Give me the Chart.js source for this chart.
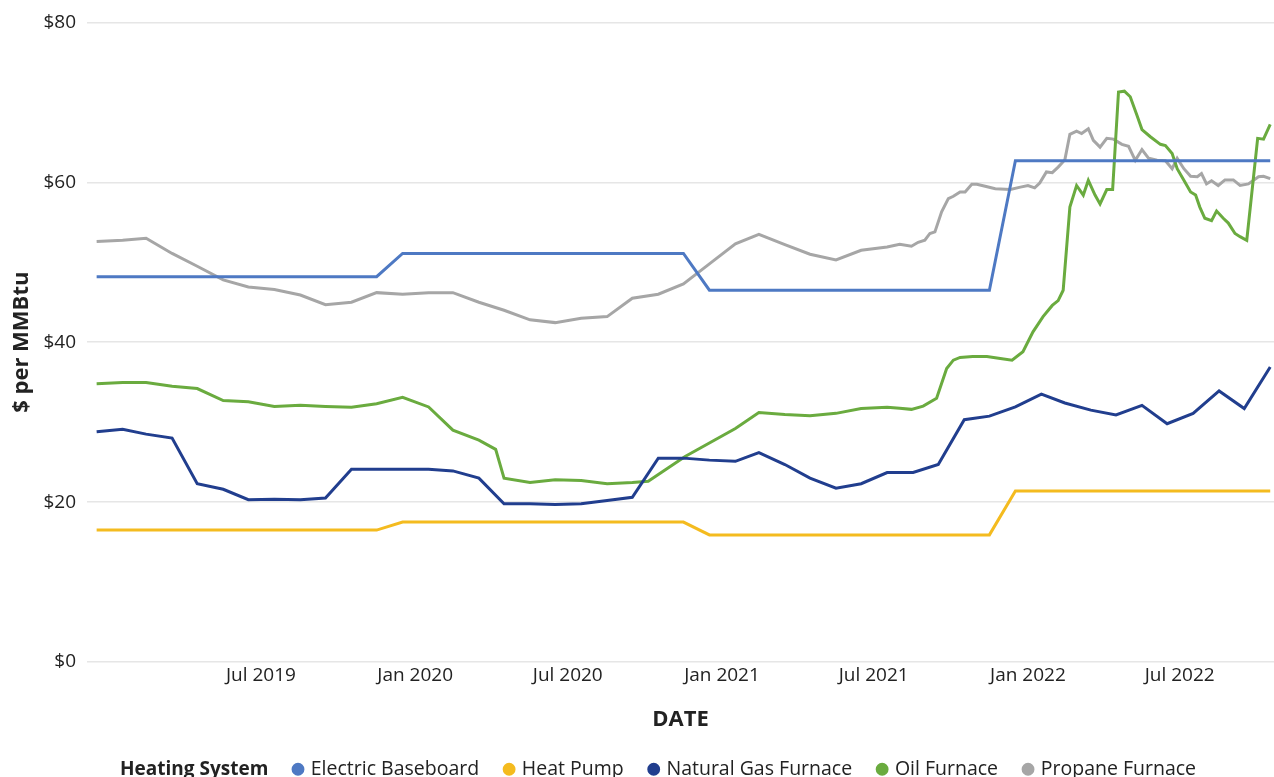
<!DOCTYPE html>
<html>
<head>
<meta charset="utf-8">
<script src="https://cdn.jsdelivr.net/npm/chart.js@4.4.0/dist/chart.umd.min.js"></script>
<style>
html,body{margin:0;padding:0;width:1274px;height:777px;overflow:hidden;background:#fff;}
#wrap{position:relative;width:1274px;height:789px;}
</style>
</head>
<body>
<div id="wrap"><canvas id="c"></canvas></div>
<script>
// ---------- DATA ----------
const months = [
 "2019-01","2019-02","2019-03","2019-04","2019-05","2019-06","2019-07","2019-08","2019-09","2019-10","2019-11","2019-12",
 "2020-01","2020-02","2020-03","2020-04","2020-05","2020-06","2020-07","2020-08","2020-09","2020-10","2020-11","2020-12",
 "2021-01","2021-02","2021-03","2021-04","2021-05","2021-06","2021-07","2021-08","2021-09","2021-10","2021-11","2021-12",
 "2022-01","2022-02","2022-03","2022-04","2022-05","2022-06","2022-07","2022-08","2022-09","2022-10","2022-11"];

const electricBaseboard = [
 48.2,48.2,48.2,48.2,48.2,48.2,48.2,48.2,48.2,48.2,48.2,48.2,
 51.1,51.1,51.1,51.1,51.1,51.1,51.1,51.1,51.1,51.1,51.1,51.1,
 46.5,46.5,46.5,46.5,46.5,46.5,46.5,46.5,46.5,46.5,46.5,46.5,
 62.7,62.7,62.7,62.7,62.7,62.7,62.7,62.7,62.7,62.7,62.7];

const heatPump = [
 16.5,16.5,16.5,16.5,16.5,16.5,16.5,16.5,16.5,16.5,16.5,16.5,
 17.5,17.5,17.5,17.5,17.5,17.5,17.5,17.5,17.5,17.5,17.5,17.5,
 15.9,15.9,15.9,15.9,15.9,15.9,15.9,15.9,15.9,15.9,15.9,15.9,
 21.4,21.4,21.4,21.4,21.4,21.4,21.4,21.4,21.4,21.4,21.4];

const naturalGasFurnace = [
 28.8,29.1,28.5,28.0,22.3,21.6,20.3,20.35,20.3,20.5,24.1,24.1,
 24.1,24.1,23.9,23.0,19.8,19.8,19.7,19.8,20.2,20.6,25.5,25.5,
 25.25,25.1,26.2,24.7,23.0,21.75,22.3,23.7,23.7,24.7,30.3,30.75,
 31.9,33.5,32.4,31.5,30.9,32.1,29.8,31.1,33.9,31.7,36.9];

const oilDates = [
 "2019-01-01","2019-02-01","2019-03-01","2019-04-01","2019-05-01","2019-06-01","2019-07-01","2019-08-01","2019-09-01","2019-10-01","2019-11-01","2019-12-01",
 "2020-01-01","2020-02-01","2020-03-01","2020-04-01","2020-04-21","2020-05-01","2020-06-01","2020-07-01","2020-08-01","2020-09-01","2020-10-01","2020-10-20","2020-12-03",
 "2021-02-01","2021-03-01","2021-04-01","2021-05-01","2021-06-01","2021-07-01","2021-08-01","2021-08-16","2021-08-30","2021-09-13","2021-09-29","2021-10-11","2021-10-19","2021-10-27","2021-11-11","2021-11-28","2021-12-14","2021-12-28",
 "2022-01-10","2022-01-22","2022-02-03","2022-02-14","2022-02-21","2022-02-27","2022-03-07","2022-03-15","2022-03-23","2022-03-29","2022-04-06","2022-04-12","2022-04-20","2022-04-27",
 "2022-05-04","2022-05-11","2022-05-18","2022-05-26","2022-06-01","2022-06-11","2022-06-23","2022-06-29","2022-07-07","2022-07-13","2022-07-21","2022-07-29",
 "2022-08-04","2022-08-09","2022-08-15","2022-08-23","2022-08-29","2022-09-06","2022-09-12","2022-09-20","2022-09-26","2022-10-04","2022-10-17","2022-10-24","2022-11-01"];
const oilFurnace = [
 34.8,34.95,34.95,34.5,34.2,32.7,32.55,31.95,32.1,31.95,31.85,32.3,
 33.1,31.9,29.0,27.75,26.6,23.0,22.45,22.8,22.7,22.3,22.45,22.6,25.7,
 29.2,31.2,30.95,30.8,31.1,31.7,31.85,31.75,31.6,32.0,33.0,36.7,37.75,38.1,38.2,38.2,37.95,37.75,
 38.8,41.3,43.2,44.6,45.2,46.5,56.9,59.6,58.4,60.25,58.4,57.3,59.1,59.1,
 71.3,71.4,70.7,68.4,66.6,65.7,64.75,64.6,63.6,61.7,60.25,58.8,
 58.4,56.9,55.5,55.2,56.4,55.5,54.9,53.6,53.2,52.75,65.5,65.4,67.25];

const propaneDates = [
 "2019-01-01","2019-02-01","2019-03-01","2019-04-01","2019-05-01","2019-06-01","2019-07-01","2019-08-01","2019-09-01","2019-10-01","2019-11-01","2019-12-01",
 "2020-01-01","2020-02-01","2020-03-01","2020-04-01","2020-05-01","2020-06-01","2020-07-01","2020-08-01","2020-09-01","2020-10-01","2020-11-01","2020-12-01",
 "2021-01-01","2021-02-01","2021-03-01","2021-04-01","2021-05-01","2021-06-01","2021-07-01","2021-08-01",
 "2021-08-16","2021-08-30","2021-09-07","2021-09-15","2021-09-21","2021-09-27","2021-10-05","2021-10-13","2021-10-19","2021-10-27","2021-11-02","2021-11-10","2021-11-16","2021-11-26","2021-12-08","2021-12-26",
 "2022-01-07","2022-01-16","2022-01-24","2022-01-30","2022-02-07","2022-02-14","2022-02-21","2022-03-01","2022-03-07","2022-03-15","2022-03-21","2022-03-29",
 "2022-04-04","2022-04-12","2022-04-20","2022-04-28","2022-05-08","2022-05-16","2022-05-24","2022-06-01","2022-06-09","2022-06-19","2022-06-29",
 "2022-07-07","2022-07-13","2022-07-21","2022-07-29","2022-08-06","2022-08-11","2022-08-17","2022-08-23","2022-08-31",
 "2022-09-08","2022-09-18","2022-09-26","2022-10-06","2022-10-18","2022-10-24","2022-11-01"];
const propaneFurnace = [
 52.6,52.75,53.0,51.1,49.5,47.8,46.9,46.6,45.9,44.7,45.0,46.2,
 46.0,46.2,46.2,45.0,44.0,42.8,42.45,43.0,43.2,45.5,46.0,47.3,
 49.8,52.3,53.5,52.2,51.0,50.3,51.5,51.9,
 52.25,52.0,52.5,52.75,53.6,53.8,56.3,57.95,58.25,58.8,58.8,59.75,59.75,59.5,59.2,59.1,
 59.4,59.6,59.3,59.9,61.3,61.2,61.9,62.8,66.0,66.4,66.1,66.7,
 65.25,64.4,65.5,65.4,64.75,64.5,62.75,64.1,63.0,62.75,62.7,
 61.7,63.0,61.7,60.75,60.7,61.1,59.8,60.2,59.6,
 60.3,60.3,59.6,59.8,60.7,60.75,60.45];

const xTickDates  = ["2019-07-16","2020-01-16","2020-07-16","2021-01-16","2021-07-16","2022-01-16","2022-07-16"];
const xTickLabels = ["Jul 2019","Jan 2020","Jul 2020","Jan 2021","Jul 2021","Jan 2022","Jul 2022"];
const seriesNames = ["Electric Baseboard","Heat Pump","Natural Gas Furnace","Oil Furnace","Propane Furnace"];
const seriesColors = ["#4e79c3","#f4bb1f","#213e8e","#6aab3f","#a6a6a6"];

// ---------- HELPERS ----------
const FONT = "'Open Sans', 'Noto Sans', sans-serif";
Chart.defaults.font.family = FONT;
Chart.defaults.color = '#222';

function dayOf(s){
  const p = s.split('-').map(Number);
  return (Date.UTC(p[0], p[1]-1, p[2] || 1) - Date.UTC(2019,0,1)) / 86400000;
}
function pts(dates, vals){ return dates.map((d,i)=>({x: dayOf(d), y: vals[i]})); }
const monthDates = months.map(m => m + '-01');

const seriesData = [
  pts(monthDates, electricBaseboard),
  pts(monthDates, heatPump),
  pts(monthDates, naturalGasFurnace),
  pts(oilDates, oilFurnace),
  pts(propaneDates, propaneFurnace)
];

const datasets = seriesNames.map((n,i)=>({
  label: n,
  data: seriesData[i],
  borderColor: seriesColors[i],
  backgroundColor: seriesColors[i],
  borderWidth: 3,
  pointRadius: 0,
  pointHoverRadius: 0,
  pointStyle: 'circle',
  tension: 0,
  fill: false
}));

// layout constants
const CANVAS_H = 789;
const LEGEND_PAD = 27, LEGEND_FONT = 19.5, LEGEND_BOX = 6;
const LEGEND_H = LEGEND_FONT + LEGEND_PAD + 10;
const PLOT_BOTTOM = 662;
const X_AXIS_H = CANVAS_H - LEGEND_H - PLOT_BOTTOM;
const X_TITLE_PB = (CANVAS_H - LEGEND_H) - 22 * 1.2 / 2 - 720;

const legendPlacer = {
  id: 'legendPlacer',
  beforeDraw(chart){
    const lg = chart.legend;
    if (!lg) return;
    lg.left = 298 - LEGEND_BOX/2 - LEGEND_PAD;
    lg.right = lg.left + 1274;
  },
  afterDraw(chart){
    const lg = chart.legend;
    if (!lg) return;
    const ctx = chart.ctx;
    const y = lg.top + LEGEND_PAD + LEGEND_FONT/2;
    ctx.save();
    ctx.font = "bold 19px " + FONT;
    ctx.fillStyle = '#222';
    ctx.textAlign = 'left';
    ctx.textBaseline = 'middle';
    ctx.fillText('Heating System', 120, y);
    ctx.restore();
  }
};

new Chart(document.getElementById('c'), {
  type: 'line',
  data: { datasets },
  plugins: [legendPlacer],
  options: {
    responsive: true,
    maintainAspectRatio: false,
    animation: false,
    layout: { padding: { top: 22, left: 0, right: 0, bottom: 0 } },
    plugins: {
      tooltip: { enabled: false },
      legend: {
        position: 'bottom',
        align: 'start',
        labels: {
          usePointStyle: true,
          pointStyle: 'circle',
          boxWidth: LEGEND_BOX,
          boxHeight: 7,
          padding: LEGEND_PAD,
          color: '#222',
          font: { size: LEGEND_FONT, weight: 500 }
        }
      }
    },
    scales: {
      x: {
        type: 'linear',
        min: -11.5,
        max: 1404.5,
        grid: { display: false, drawTicks: false },
        border: { display: false },
        afterBuildTicks(scale){ scale.ticks = xTickDates.map(d => ({ value: dayOf(d) })); },
        afterFit(scale){ scale.height = X_AXIS_H; },
        ticks: {
          autoSkip: false,
          maxRotation: 0,
          padding: 2,
          color: '#222',
          font: { size: 19, weight: 500 },
          callback: (v, i) => xTickLabels[i]
        },
        title: {
          display: true,
          text: 'DATE',
          color: '#222',
          font: { size: 22, weight: 'bold' },
          padding: { top: 0, bottom: X_TITLE_PB }
        }
      },
      y: {
        min: 0,
        max: 80,
        grid: { color: '#e6e6e6', lineWidth: 1.5, drawTicks: false },
        border: { display: false },
        afterFit(scale){ scale.width = 87; },
        ticks: {
          stepSize: 20,
          padding: 11,
          color: '#222',
          font: { size: 19, weight: 500 },
          callback: v => '$' + v
        },
        title: {
          display: true,
          text: '$ per MMBtu',
          color: '#222',
          font: { size: 22, weight: 'bold' },
          padding: { top: 9, bottom: 0 }
        }
      }
    }
  }
});
</script>
</body>
</html>
